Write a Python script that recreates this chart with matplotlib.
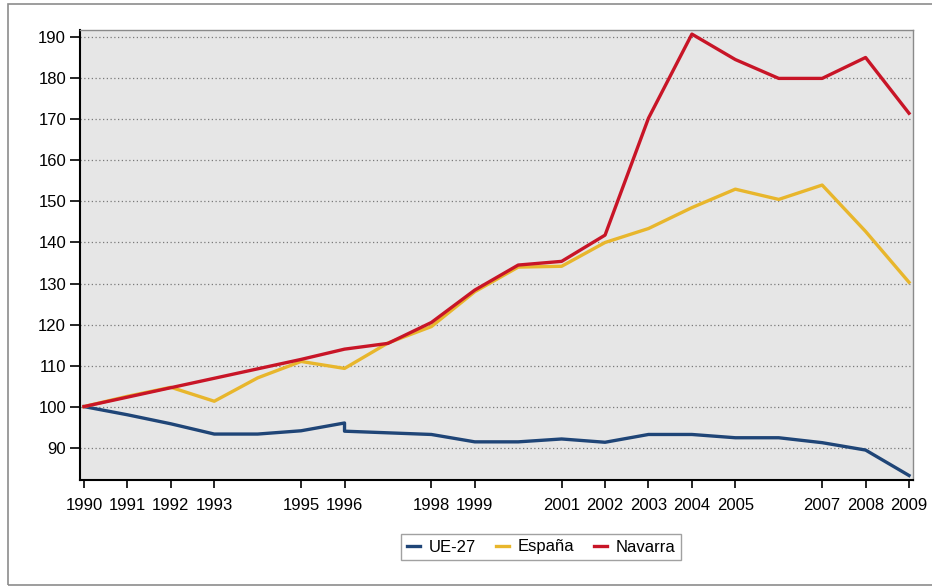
import matplotlib
matplotlib.use("Agg")
import matplotlib.pyplot as plt
from matplotlib.patches import Rectangle

plt.rcParams['font.family'] = ['Liberation Sans', 'DejaVu Sans']

years = [1990, 1991, 1992, 1993, 1994, 1995, 1996, 1997, 1998, 1999,
         2000, 2001, 2002, 2003, 2004, 2005, 2006, 2007, 2008, 2009]
ue27_years = [1990, 1991, 1992, 1993, 1994, 1995, 1996, 1996, 1997, 1998, 1999,
              2000, 2001, 2002, 2003, 2004, 2005, 2006, 2007, 2008, 2009]
ue27 = [100, 98, 95.8, 93.3, 93.3, 94.1, 96.0, 94.0, 93.6, 93.2, 91.4,
        91.4, 92.1, 91.3, 93.2, 93.2, 92.4, 92.4, 91.2, 89.4, 83.2]
espana = [100, 102.5, 104.7, 101.3, 107.0, 111.0, 109.3, 115.5, 119.5, 128.0,
          134.0, 134.2, 140.0, 143.4, 148.5, 153.0, 150.5, 154.0, 142.7, 130.3]
navarra = [100, 102.3, 104.6, 106.9, 109.2, 111.5, 114.0, 115.4, 120.5, 128.4,
           134.5, 135.4, 141.8, 170.3, 190.8, 184.6, 180.0, 180.0, 185.1, 171.5]
tick_years = [1990, 1991, 1992, 1993, 1995, 1996, 1998, 1999, 2001, 2002,
              2003, 2004, 2005, 2007, 2008, 2009]
y_ticks = [90, 100, 110, 120, 130, 140, 150, 160, 170, 180, 190]
series_names = ['UE-27', 'España', 'Navarra']
colors = ['#1f4577', '#e8b62c', '#c81527']

W, H = 932, 586
fig = plt.figure(figsize=(W / 100, H / 100), dpi=100)
fig.patch.set_facecolor('white')

# outer frame
fig.add_artist(Rectangle((8 / W, 1 - 585 / H), 1.0, (585 - 4) / H,
                         transform=fig.transFigure, fill=False,
                         edgecolor='#8c8c8c', linewidth=1.2))

ax = fig.add_axes([80 / W, 1 - 480 / H, (913 - 80) / W, (480 - 30) / H])
ax.set_facecolor('#e6e6e6')

ax.plot(ue27_years, ue27, color=colors[0], linewidth=2.4, label=series_names[0])
ax.plot(years, espana, color=colors[1], linewidth=2.4, label=series_names[1])
ax.plot(years, navarra, color=colors[2], linewidth=2.4, label=series_names[2])

ax.set_xlim(1989.908, 2009.092)
ax.set_ylim(82.1, 191.8)
ax.set_xticks(tick_years)
ax.set_xticklabels([str(t) for t in tick_years], fontsize=12)
ax.set_yticks(y_ticks)
ax.set_yticklabels([str(t) for t in y_ticks], fontsize=12)
ax.tick_params(axis='x', direction='out', length=6, width=1.2, pad=7, colors='black')
ax.tick_params(axis='y', direction='out', length=7, width=1.2, pad=3, colors='black')

ax.grid(axis='y', linestyle=(0, (1, 2)), color='#7a7a7a', linewidth=0.9)
ax.set_axisbelow(True)

for side in ['left', 'bottom']:
    ax.spines[side].set_color('black')
    ax.spines[side].set_linewidth(1.5)
for side in ['top', 'right']:
    ax.spines[side].set_color('#8a8a8a')
    ax.spines[side].set_linewidth(1.0)

leg = ax.legend(loc='center', bbox_to_anchor=(541 / W, 1 - 547 / H),
                bbox_transform=fig.transFigure, ncol=3, frameon=True,
                fancybox=False, fontsize=12, handlelength=0.8,
                handletextpad=0.5, columnspacing=1.2, borderpad=0.35)
leg.get_frame().set_edgecolor('#8a8a8a')
leg.get_frame().set_linewidth(1.0)

fig.savefig('out.png', dpi=100)
